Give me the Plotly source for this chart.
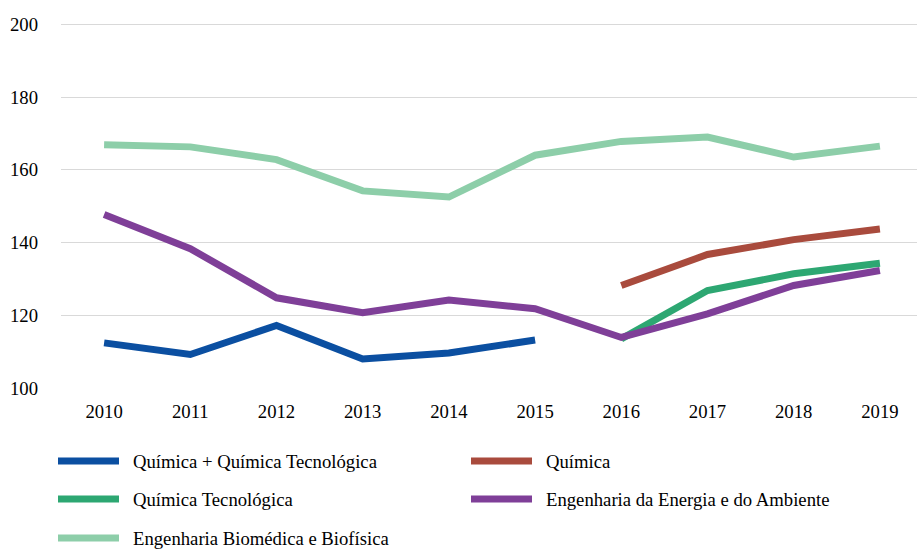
import plotly.graph_objects as go

years = [2010, 2011, 2012, 2013, 2014, 2015, 2016, 2017, 2018, 2019]

quimica_qt = [112.4, 109.2, 117.2, 108.0, 109.6, 113.2, None, None, None, None]
quimica = [None, None, None, None, None, None, 128.2, 136.7, 140.8, 143.7]
quimica_tec = [None, None, None, None, None, None, 113.5, 126.8, 131.4, 134.3]
energia = [147.7, 138.3, 124.8, 120.7, 124.2, 121.8, 113.9, 120.4, 128.2, 132.3]
biomedica = [166.9, 166.3, 162.8, 154.2, 152.5, 164.0, 167.8, 169.0, 163.5, 166.5]

series_names = [
    "Química + Química Tecnológica",
    "Química",
    "Química Tecnológica",
    "Engenharia da Energia e do Ambiente",
    "Engenharia Biomédica e Biofísica",
]
series_values = [quimica_qt, quimica, quimica_tec, energia, biomedica]
colors = ["#0B4FA1", "#A94B3D", "#2DA772", "#7F3F98", "#8DCEA9"]

y_ticks = [100, 120, 140, 160, 180, 200]

FONT = "Liberation Serif, Times New Roman, serif"
FS = 18.7

W, H = 917, 550
ML, MR, MT, MB = 61, 0, 23, 162
PW = W - ML - MR
PH = H - MT - MB
PX_PER_UNIT = 3.632
y_top = 200 + (24.3 - MT) / PX_PER_UNIT

fig = go.Figure()

draw_order = [4, 0, 1, 2, 3]
for i in draw_order:
    fig.add_trace(go.Scatter(
        x=years, y=series_values[i], mode="lines", name=series_names[i],
        line=dict(color=colors[i], width=7), showlegend=False,
        connectgaps=False,
    ))

def px_to_paper_x(px):
    return (px - ML) / PW

def px_to_paper_y(py):
    return (H - MB - py) / PH

legend_rows = [461, 499, 538]
legend_cols = [(58, 119, 131), (471, 532, 544)]
shapes = []
annotations = []
for k, name in enumerate(series_names):
    r, c = divmod(k, 2)
    x0, x1, xt = legend_cols[c]
    yy = px_to_paper_y(legend_rows[r])
    shapes.append(dict(type="line", xref="paper", yref="paper",
                       x0=px_to_paper_x(x0), x1=px_to_paper_x(x1), y0=yy, y1=yy,
                       line=dict(color=colors[k], width=7)))
    annotations.append(dict(xref="paper", yref="paper", x=px_to_paper_x(xt), y=yy,
                            text=name, showarrow=False, xanchor="left", yanchor="middle",
                            font=dict(family=FONT, size=FS, color="#000000")))

x_right = 2009.5 + PW / 86.2

fig.update_layout(
    width=W, height=H,
    margin=dict(l=ML, r=MR, t=MT, b=MB),
    paper_bgcolor="white", plot_bgcolor="white",
    font=dict(family=FONT, size=FS, color="#000000"),
    shapes=shapes, annotations=annotations,
    xaxis=dict(range=[2009.5, x_right], tickmode="array", tickvals=years,
               ticktext=[str(y) for y in years], showgrid=False, zeroline=False,
               showline=False, ticks="", ticklabelstandoff=10,
               tickfont=dict(family=FONT, size=FS, color="#000000")),
    yaxis=dict(range=[100, y_top], tickmode="array", tickvals=y_ticks,
               showgrid=True, gridcolor="#D9D9D9", gridwidth=1.3, zeroline=False,
               showline=False, ticks="", ticklabelstandoff=22,
               tickfont=dict(family=FONT, size=FS, color="#000000")),
    showlegend=False,
)

fig.write_html("out.html", config={"displayModeBar": False},
               post_script="document.body.style.margin='0';document.body.style.padding='0';")
